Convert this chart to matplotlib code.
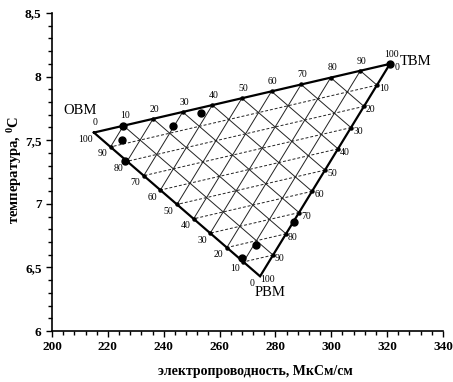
import numpy as np
import matplotlib.pyplot as plt
from matplotlib.ticker import MultipleLocator

plt.rcParams['font.family'] = ['Liberation Serif', 'DejaVu Serif']

# вершины треугольника смешения (электропроводность, температура)
vert_names = ['ОВМ', 'ТВМ', 'РВМ']
vert_ec = [215.0, 321.0, 274.5]
vert_t = [7.56, 8.10, 6.43]

# доли, %
levels = [0, 10, 20, 30, 40, 50, 60, 70, 80, 90, 100]

# измеренные точки
pt_ec = [225.4, 225.2, 226.1, 243.2, 253.2, 321.0, 286.8, 272.9, 267.9]
pt_t = [7.61, 7.50, 7.34, 7.61, 7.71, 8.10, 6.86, 6.68, 6.57]

xticks = [200, 220, 240, 260, 280, 300, 320, 340]
yticks = [6, 6.5, 7, 7.5, 8, 8.5]
ytick_labels = ['6', '6,5', '7', '7,5', '8', '8,5']

xlabel = 'электропроводность, МкСм/см'
ylabel = r'температура, $\mathregular{^0}$С'

O = np.array([vert_ec[0], vert_t[0]])
T = np.array([vert_ec[1], vert_t[1]])
P = np.array([vert_ec[2], vert_t[2]])


def on_edge(a, b, f):
    return a + f * (b - a)


fig = plt.figure(figsize=(4.53, 3.82), dpi=100)
ax = fig.add_axes([52/453, 1-331/382, 391/453, 318/382])

# сетка
for lv in levels[1:-1]:
    f = lv / 100
    a = on_edge(T, P, f); b = on_edge(P, O, 1-f)
    ax.plot([a[0], b[0]], [a[1], b[1]], ls=(0, (3, 2)), lw=0.7, color='#222222')
    a = on_edge(O, T, f); b = on_edge(T, P, 1-f)
    ax.plot([a[0], b[0]], [a[1], b[1]], '-', lw=0.7, color='#222222')
    a = on_edge(O, T, f); b = on_edge(P, O, 1-f)
    ax.plot([a[0], b[0]], [a[1], b[1]], '-', lw=0.7, color='#222222')

# стороны треугольника
tri = np.array([O, T, P, O])
ax.plot(tri[:, 0], tri[:, 1], '-k', lw=1.6, solid_joinstyle='miter')

# подписи долей на сторонах
edges = [(O, T, (1, 7)), (T, P, (5, -2.5)), (P, O, (-6, -5))]
for a, b, off in edges:
    for lv in levels:
        p = on_edge(a, b, lv/100)
        if 0 < lv < 100:
            ax.plot(p[0], p[1], 'ok', ms=2.2)
        ax.annotate(str(lv), xy=p, xytext=off, textcoords='offset points',
                    ha='center', va='center', fontsize=7)

# точки
ax.plot(pt_ec, pt_t, 'ok', ms=5, zorder=5)

# названия вершин
ax.text(210, 7.73, vert_names[0], ha='center', va='center', fontsize=10.5)
ax.text(330, 8.115, vert_names[1], ha='center', va='center', fontsize=10.5)
ax.text(278, 6.30, vert_names[2], ha='center', va='center', fontsize=10.5)

ax.set_xlim(200, 340)
ax.set_ylim(6, 8.5)
ax.set_xticks(xticks)
ax.set_xticklabels([str(x) for x in xticks])
ax.set_yticks(yticks)
ax.set_yticklabels(ytick_labels)
ax.xaxis.set_minor_locator(MultipleLocator(4))
ax.yaxis.set_minor_locator(MultipleLocator(0.1))
ax.tick_params(which='major', direction='out', length=4, width=1, labelsize=9.5)
ax.tick_params(which='minor', direction='out', length=3, width=1)
for lab in ax.get_xticklabels() + ax.get_yticklabels():
    lab.set_fontweight('bold')
ax.spines['top'].set_visible(False)
ax.spines['right'].set_visible(False)
ax.spines['left'].set_linewidth(1.2)
ax.spines['bottom'].set_linewidth(1.2)
ax.patch.set_visible(False)

fig.text(255/453, 1-372/382, xlabel, ha='center', va='center', fontsize=10, fontweight='bold')
fig.text(15/453, 1-170/382, ylabel, ha='center', va='center', rotation=90, fontsize=10.5, fontweight='bold')

fig.savefig('out.png', dpi=100)
